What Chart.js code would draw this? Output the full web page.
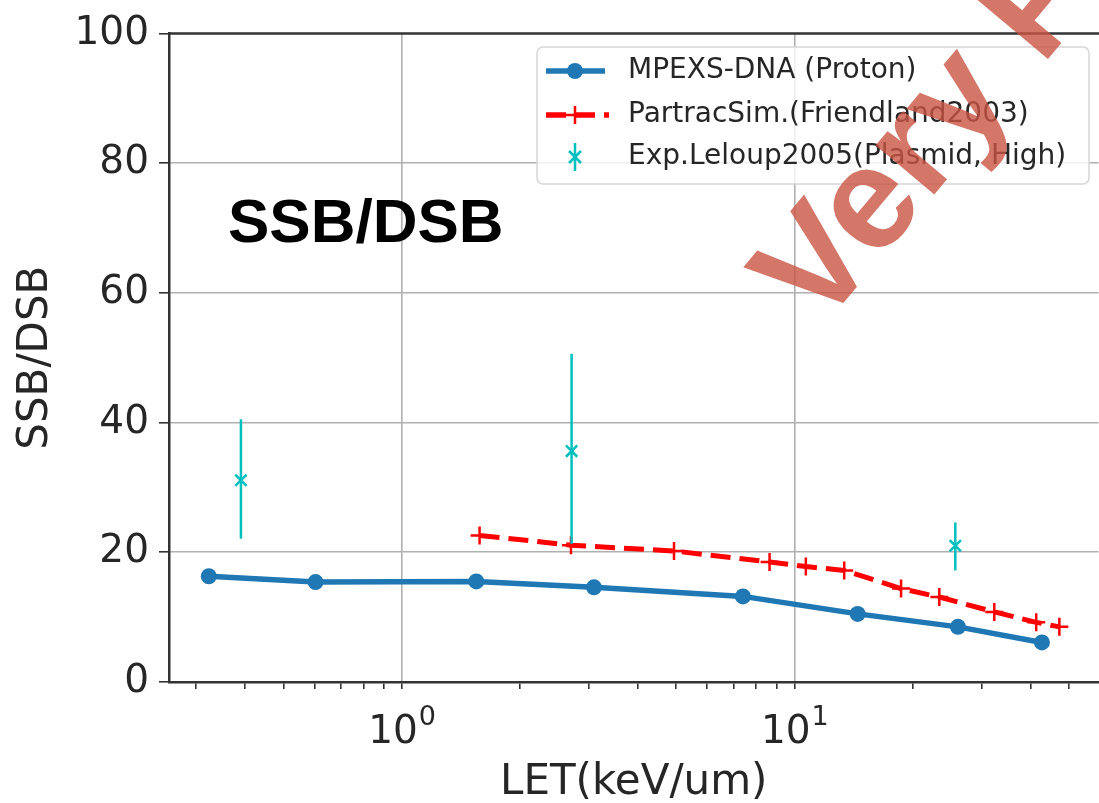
<!DOCTYPE html>
<html>
<head>
<meta charset="utf-8">
<script src="https://cdn.jsdelivr.net/npm/chart.js@4"></script>
<style>
  html, body { margin:0; padding:0; background:#fff; }
  #wrap { width:1099px; height:803px; overflow:hidden; }
</style>
</head>
<body>
<div id="wrap"><canvas id="myChart" width="1110" height="803"></canvas></div>
<script>
// values
const mpexsLet = [0.323, 0.604, 1.55, 3.09, 7.40, 14.5, 26.1, 42.7];
const mpexsRatio = [16.3, 15.4, 15.5, 14.6, 13.2, 10.5, 8.5, 6.1];

const partracLet = [1.58, 2.70, 4.94, 8.65, 10.7, 13.4, 18.7, 23.4, 32.3, 41.3, 47.3];
const partracRatio = [22.6, 21.1, 20.2, 18.5, 17.8, 17.2, 14.4, 13.1, 10.8, 9.2, 8.5];

const expLet = [0.390, 2.71, 25.7];
const expRatio = [31.1, 35.6, 21.0];
const expLow = [22.1, 21.3, 17.2];
const expHigh = [40.5, 50.6, 24.6];

const xTicks = [0.3, 0.4, 0.5, 0.6, 0.7, 0.8, 0.9, 1, 2, 3, 4, 5, 6, 7, 8, 9, 10, 20, 30, 40, 50];
const xMajor = {1: '0', 10: '1'};   // exponent shown as 10^n

const labels = ['MPEXS-DNA (Proton)', 'PartracSim.(Friendland2003)', 'Exp.Leloup2005(Plasmid, High)'];

const toPoints = (xs, ys) => xs.map((x, i) => ({x: x, y: ys[i]}));

const spineColor = '#333333';
const gridColor = '#b0b0b0';
const textColor = '#262626';
const cyan = '#00bfbf';

// error bars of the experiment points
const errorBars = {
  id: 'errorBars',
  afterDatasetsDraw(chart) {
    const ctx = chart.ctx, xs = chart.scales.x, ys = chart.scales.y;
    ctx.save();
    ctx.strokeStyle = cyan;
    ctx.lineWidth = 2.5;
    expLet.forEach((v, i) => {
      const px = xs.getPixelForValue(v);
      ctx.beginPath();
      ctx.moveTo(px, ys.getPixelForValue(expLow[i]));
      ctx.lineTo(px, ys.getPixelForValue(expHigh[i]));
      ctx.stroke();
    });
    ctx.restore();
  }
};

// top spine, 10^n labels, legend box, big label and watermark
const decorations = {
  id: 'decorations',
  afterDraw(chart) {
    const ctx = chart.ctx, area = chart.chartArea, xs = chart.scales.x;
    ctx.save();

    ctx.strokeStyle = spineColor;
    ctx.lineWidth = 2.5;
    ctx.beginPath();
    ctx.moveTo(area.left - 1, area.top);
    ctx.lineTo(area.right + 2, area.top);
    ctx.stroke();

    // log tick labels with raised exponent
    ctx.fillStyle = textColor;
    ctx.textBaseline = 'alphabetic';
    Object.keys(xMajor).forEach(k => {
      const px = xs.getPixelForValue(Number(k));
      ctx.font = '39px "DejaVu Sans"';
      const wb = ctx.measureText('10').width;
      ctx.font = '27px "DejaVu Sans"';
      const we = ctx.measureText(xMajor[k]).width;
      const x0 = px - (wb + we) / 2;
      ctx.font = '39px "DejaVu Sans"';
      ctx.fillText('10', x0, area.bottom + 61);
      ctx.font = '27px "DejaVu Sans"';
      ctx.fillText(xMajor[k], x0 + wb + 1, area.bottom + 43);
    });

    // legend
    const bx = 537, by = 47, bw = 552, bh = 137;
    ctx.fillStyle = 'rgba(255,255,255,0.8)';
    ctx.strokeStyle = '#d6d6d6';
    ctx.lineWidth = 1.5;
    ctx.beginPath();
    ctx.roundRect(bx, by, bw, bh, 6);
    ctx.fill();
    ctx.stroke();

    const rows = [71, 115, 157];
    const sx0 = 546, sx1 = 605, sc = 575;
    // blue line with dot
    ctx.strokeStyle = '#1f77b4';
    ctx.lineWidth = 5.5;
    ctx.setLineDash([]);
    ctx.beginPath(); ctx.moveTo(sx0, rows[0]); ctx.lineTo(sx1, rows[0]); ctx.stroke();
    ctx.fillStyle = '#1f77b4';
    ctx.beginPath(); ctx.arc(sc, rows[0], 8, 0, Math.PI * 2); ctx.fill();
    // red dashed with plus
    ctx.strokeStyle = 'red';
    ctx.setLineDash([20, 9]);
    ctx.beginPath(); ctx.moveTo(sx0, rows[1]); ctx.lineTo(sx1 + 4, rows[1]); ctx.stroke();
    ctx.setLineDash([]);
    ctx.lineWidth = 2.5;
    ctx.beginPath();
    ctx.moveTo(sc, rows[1] - 9); ctx.lineTo(sc, rows[1] + 9);
    ctx.moveTo(sc - 9, rows[1]); ctx.lineTo(sc + 9, rows[1]);
    ctx.stroke();
    // cyan x with bar
    ctx.strokeStyle = cyan;
    ctx.beginPath();
    ctx.moveTo(sc, rows[2] - 14); ctx.lineTo(sc, rows[2] + 14);
    ctx.moveTo(sc - 6, rows[2] - 6); ctx.lineTo(sc + 6, rows[2] + 6);
    ctx.moveTo(sc - 6, rows[2] + 6); ctx.lineTo(sc + 6, rows[2] - 6);
    ctx.stroke();

    ctx.fillStyle = textColor;
    ctx.font = '28px "DejaVu Sans"';
    ctx.textBaseline = 'middle';
    labels.forEach((t, i) => ctx.fillText(t, 628, rows[i]));

    // big label
    ctx.fillStyle = '#000';
    ctx.font = 'bold 62px "Liberation Sans"';
    ctx.textBaseline = 'alphabetic';
    ctx.fillText('SSB/DSB', 228, 242);

    // watermark
    ctx.translate(819, 332);
    ctx.rotate(-50 * Math.PI / 180);
    ctx.fillStyle = 'rgba(201,84,66,0.8)';
    ctx.font = 'bold 145px "Liberation Sans"';
    ctx.fillText('Very Preliminary', 0, 0);
    ctx.restore();
  }
};

const myChart = new Chart('myChart', {
  type: 'line',
  data: {
    datasets: [
      {
        label: labels[0],
        data: toPoints(mpexsLet, mpexsRatio),
        borderColor: '#1f77b4',
        backgroundColor: '#1f77b4',
        borderWidth: 5.5,
        pointRadius: 8,
        pointBorderWidth: 0,
        pointBackgroundColor: '#1f77b4',
        order: 3
      },
      {
        label: labels[1],
        data: toPoints(partracLet, partracRatio),
        borderColor: 'red',
        borderWidth: 5,
        borderDash: [20, 9],
        pointStyle: 'cross',
        pointRadius: 9,
        pointBorderWidth: 2.5,
        pointBorderColor: 'red',
        order: 2
      },
      {
        label: labels[2],
        data: toPoints(expLet, expRatio),
        showLine: false,
        pointStyle: 'crossRot',
        pointRadius: 8,
        pointBorderWidth: 2.5,
        pointBorderColor: cyan,
        order: 1
      }
    ]
  },
  options: {
    responsive: false,
    devicePixelRatio: 1,
    animation: false,
    layout: { padding: { top: 32, right: 0, bottom: 0, left: 0 } },
    plugins: {
      legend: { display: false },
      tooltip: { enabled: false }
    },
    scales: {
      x: {
        type: 'logarithmic',
        min: 0.2558,
        max: 59.5,
        afterBuildTicks: axis => { axis.ticks = xTicks.map(v => ({value: v, major: v in xMajor})); },
        afterFit: axis => { axis.height = 121; },
        ticks: {
          autoSkip: false,
          maxRotation: 0,
          padding: 14,
          color: textColor,
          font: { family: 'DejaVu Sans', size: 39 },
          callback: () => ''
        },
        grid: {
          color: c => (c.tick && xMajor[c.tick.value]) ? gridColor : 'rgba(0,0,0,0)',
          tickColor: spineColor,
          lineWidth: 1.6,
          tickLength: 7
        },
        border: { color: spineColor, width: 2.5 },
        title: {
          display: true,
          text: 'LET(keV/um)',
          color: textColor,
          font: { family: 'DejaVu Sans', size: 42 },
          padding: { top: 0, bottom: -5 }
        }
      },
      y: {
        min: 0,
        max: 100,
        afterFit: axis => { axis.width = 169; },
        ticks: {
          stepSize: 20,
          padding: 10,
          color: textColor,
          font: { family: 'DejaVu Sans', size: 39 }
        },
        grid: {
          color: c => (c.tick && c.tick.value > 0 && c.tick.value < 100) ? gridColor : 'rgba(0,0,0,0)',
          tickColor: spineColor,
          lineWidth: 1.6,
          tickLength: 10
        },
        border: { color: spineColor, width: 2.5 },
        title: {
          display: true,
          text: 'SSB/DSB',
          color: textColor,
          font: { family: 'DejaVu Sans', size: 42 },
          padding: { top: 11, bottom: 0 }
        }
      }
    }
  },
  plugins: [errorBars, decorations]
});
</script>
</body>
</html>
